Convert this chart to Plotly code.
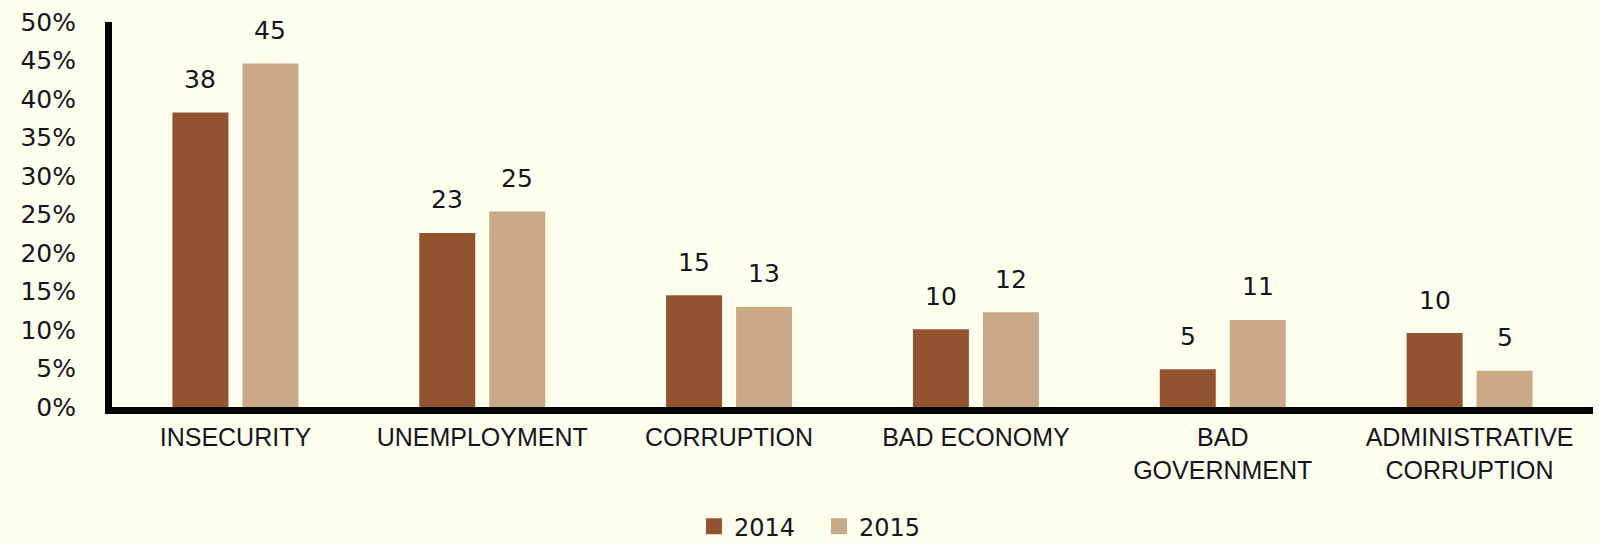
import plotly.graph_objects as go

categories = ["INSECURITY", "UNEMPLOYMENT", "CORRUPTION", "BAD ECONOMY",
              "BAD<br>GOVERNMENT", "ADMINISTRATIVE<br>CORRUPTION"]
values_2014 = [38.25, 22.6, 14.5, 10.1, 4.9, 9.6]
values_2015 = [44.6, 25.4, 13.0, 12.3, 11.3, 4.7]
labels_2014 = ["38", "23", "15", "10", "5", "10"]
labels_2015 = ["45", "25", "13", "12", "11", "5"]
series_names = ["2014", "2015"]

BG = "#FEFEEF"
C2014 = "#925430"
C2015 = "#C9A988"
TXT = "#15151c"
NUMFONT = "DejaVu Sans"
CATFONT = "Liberation Sans, Arial, sans-serif"

fig = go.Figure()
for name, vals, col in [(series_names[0], values_2014, C2014),
                        (series_names[1], values_2015, C2015)]:
    fig.add_trace(go.Bar(x=categories, y=vals, name=name, marker_color=col,
                         marker_line_width=0, showlegend=False))
    # legend proxy
    fig.add_trace(go.Scatter(x=[None], y=[None], mode="markers", name=name,
                             marker=dict(symbol="square", size=16, color=col)))

annotations = []
for labels, vals, shift in [(labels_2014, values_2014, -35), (labels_2015, values_2015, 35)]:
    for c, v, t in zip(categories, vals, labels):
        annotations.append(dict(x=c, y=v, text=t, xref="x", yref="y", showarrow=False,
                                xshift=shift, yshift=33, yanchor="middle",
                                font=dict(family=NUMFONT, size=25, color=TXT)))

fig.update_layout(
    width=1599, height=543,
    paper_bgcolor=BG, plot_bgcolor=BG,
    margin=dict(l=112, r=6, t=22, b=136, autoexpand=False),
    barmode="group", bargap=0.433, bargroupgap=0.2,
    annotations=annotations,
    showlegend=True,
    legend=dict(orientation="h", xref="container", yref="container",
                x=0.434, y=0.03, xanchor="left", yanchor="middle",
                font=dict(family=NUMFONT, size=24, color=TXT),
                bgcolor="rgba(0,0,0,0)", itemclick=False,
                entrywidth=80, entrywidthmode="pixels"),
    xaxis=dict(type="category", range=[-0.5, 5.5], showline=True, linecolor="black",
               linewidth=7, showgrid=False, zeroline=False,
               ticks="outside", ticklen=2, tickcolor="rgba(0,0,0,0)",
               tickfont=dict(family=CATFONT, size=25, color=TXT)),
    yaxis=dict(range=[0, 50], dtick=5, ticksuffix="%", showline=True, linecolor="black",
               linewidth=7, showgrid=False, zeroline=False,
               ticks="outside", ticklen=24, tickcolor="rgba(0,0,0,0)",
               tickfont=dict(family=NUMFONT, size=25, color=TXT)),
)

fig.write_html(
    "out.html",
    config={"displayModeBar": False},
    post_script="document.body.style.margin='0';document.body.style.background='#FEFEEF';document.body.style.overflow='hidden';",
)
